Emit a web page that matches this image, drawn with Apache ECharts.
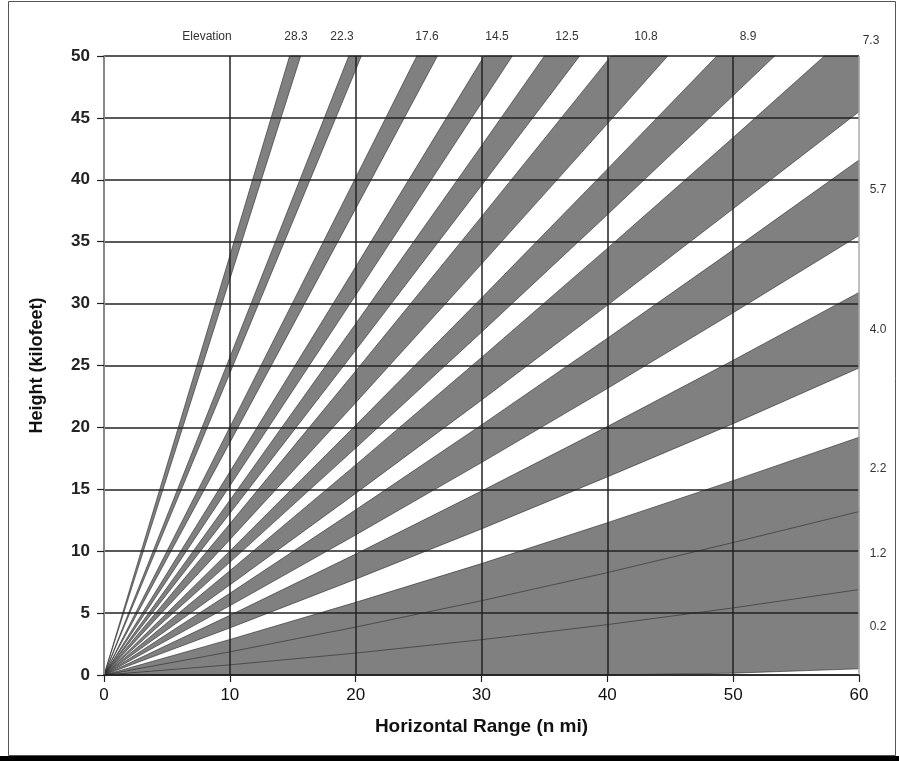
<!DOCTYPE html>
<html>
<head>
<meta charset="utf-8">
<script src="https://cdn.jsdelivr.net/npm/echarts@6/dist/echarts.min.js"></script>
<style>
html,body{margin:0;padding:0;background:#fff;}
#chart{width:899px;height:761px;}
</style>
</head>
<body>
<div id="chart"></div>
<script>
// ---- axis ranges / ticks ----
const xMin = 0, xMax = 60, xStep = 10;
const yMin = 0, yMax = 50, yStep = 5;
const xTitle = 'Horizontal Range (n mi)';
const yTitle = 'Height (kilofeet)';

// ---- beam edges: [range (n mi), height (kft)] ----
const edge0_2Low   = [[0,0],[40,0],[50,0.15],[60,0.5]];
const edge0_2High  = [[0,0],[10,1.0],[20,2.05],[30,3.2],[40,4.4],[50,5.75],[60,7.2]];
const edge1_2Low   = [[0,0],[10,0.82],[20,1.77],[30,2.85],[40,4.07],[50,5.42],[60,6.9]];
const edge1_2High  = [[0,0],[10,2.05],[20,4.15],[30,6.3],[40,8.6],[50,11.0],[60,13.5]];
const edge2_2Low   = [[0,0],[10,1.87],[20,3.87],[30,6.0],[40,8.27],[50,10.7],[60,13.2]];
const edge2_2High  = [[0,0],[10,2.87],[20,5.87],[30,9.0],[40,12.3],[50,15.7],[60,19.2]];
const edge4_0Low   = [[0,0],[10,3.8],[20,7.74],[30,11.8],[40,16.0],[50,20.3],[60,24.8]];
const edge4_0High  = [[0,0],[10,4.82],[20,9.77],[30,14.86],[40,20.07],[50,25.42],[60,30.9]];
const edge5_7Low   = [[0,0],[10,5.59],[20,11.31],[30,17.16],[40,23.14],[50,29.26],[60,35.5]];
const edge5_7High  = [[0,0],[10,6.6],[20,13.34],[30,20.2],[40,27.2],[50,34.34],[60,41.6]];
const edge7_3Low   = [[0,0],[10,7.27],[20,14.67],[30,22.2],[40,29.86],[50,37.66],[60,45.5]];
const edge7_3High  = [[0,0],[10,8.42],[20,16.97],[30,25.65],[40,34.46],[50,43.41],[57.25,50]];
const edge8_9Low   = [[0,0],[10,9.1],[20,18.33],[30,27.69],[40,37.18],[50,46.8],[53.3,50]];
const edge8_9High  = [[0,0],[10,10.02],[20,20.17],[30,30.45],[40,40.86],[48.7,50]];
const edge10_8Low  = [[0,0],[10,10.93],[20,21.99],[30,33.19],[40,44.52],[44.8,50]];
const edge10_8High = [[0,0],[10,12.21],[20,24.55],[30,37.02],[40,49.62],[40.3,50]];
const edge12_5Low  = [[0,0],[10,13.05],[20,26.23],[30,39.54],[37.8,50]];
const edge12_5High = [[0,0],[10,14.12],[20,28.37],[30,42.75],[35,50]];
const edge14_5Low  = [[0,0],[10,15.27],[20,30.67],[30,46.2],[32.45,50]];
const edge14_5High = [[0,0],[10,16.42],[20,32.97],[30,49.65],[30.2,50]];
const edge17_6Low  = [[0,0],[10,18.77],[20,37.67],[26.5,50]];
const edge17_6High = [[0,0],[10,20.02],[20,40.17],[24.86,50]];
const edge22_3Low  = [[0,0],[10,24.37],[20,48.87],[20.45,50]];
const edge22_3High = [[0,0],[10,25.67],[19.45,50]];
const edge28_3Low  = [[0,0],[10,31.97],[15.63,50]];
const edge28_3High = [[0,0],[10,33.87],[14.75,50]];

// ---- text labels ----
const topLabels   = ['Elevation','28.3','22.3','17.6','14.5','12.5','10.8','8.9','7.3'];
const rightLabels = ['5.7','4.0','2.2','1.2','0.2'];

// ---- build band table ----
const bands = [
  {low: edge0_2Low,  high: edge0_2High},
  {low: edge1_2Low,  high: edge1_2High},
  {low: edge2_2Low,  high: edge2_2High},
  {low: edge4_0Low,  high: edge4_0High},
  {low: edge5_7Low,  high: edge5_7High},
  {low: edge7_3Low,  high: edge7_3High},
  {low: edge8_9Low,  high: edge8_9High},
  {low: edge10_8Low, high: edge10_8High},
  {low: edge12_5Low, high: edge12_5High},
  {low: edge14_5Low, high: edge14_5High},
  {low: edge17_6Low, high: edge17_6High},
  {low: edge22_3Low, high: edge22_3High},
  {low: edge28_3Low, high: edge28_3High}
];

// layout positions for the annotation texts (pixels)
const topPos   = [[207,37],[296,37],[342,37],[427,37],[497,37],[567,37],[646,37],[748,37],[871,41]];
const rightPos = [[878,190],[878,330],[878,469],[878,554],[878,627]];

const chart = echarts.init(document.getElementById('chart'), null, {renderer:'canvas'});

const graphics = [
  {type:'rect', shape:{x:8.5,y:1.5,width:887,height:754}, style:{fill:'none', stroke:'#555', lineWidth:1}, z:0},
  {type:'rect', shape:{x:0,y:756,width:899,height:5}, style:{fill:'#000'}, z:0}
];
topLabels.forEach((t,i)=>{
  graphics.push({type:'text', x:topPos[i][0], y:topPos[i][1], style:{text:t, fill:'#333', font:'12px "Liberation Sans", Arial, sans-serif', textAlign:'center', textVerticalAlign:'middle'}, z:10});
});
rightLabels.forEach((t,i)=>{
  graphics.push({type:'text', x:rightPos[i][0], y:rightPos[i][1], style:{text:t, fill:'#333', font:'12px "Liberation Sans", Arial, sans-serif', textAlign:'center', textVerticalAlign:'middle'}, z:10});
});

const xLineColors = [];
for (let v = xMin; v <= xMax; v += xStep) xLineColors.push(v === xMax ? '#aaaaaa' : (v === xMin ? '#888888' : '#222222'));

chart.setOption({
  animation:false,
  backgroundColor:'#fff',
  grid:{left:104, right:40, top:56, bottom:86},
  xAxis:{
    type:'value', min:xMin, max:xMax, interval:xStep, z:5,
    name:xTitle, nameLocation:'middle', nameGap:42,
    nameTextStyle:{fontFamily:'"Liberation Sans Narrow","Liberation Sans",Arial', fontWeight:'bold', fontSize:19, color:'#111'},
    axisLine:{show:true, onZero:false, lineStyle:{color:'#222', width:1.5}},
    axisTick:{show:true, length:7, lineStyle:{color:'#222', width:1.2}},
    axisLabel:{margin:12, fontFamily:'"Liberation Sans Narrow","Liberation Sans",Arial', fontSize:17, color:'#111'},
    splitLine:{show:true, lineStyle:{color:xLineColors, width:1.5}}
  },
  yAxis:{
    type:'value', min:yMin, max:yMax, interval:yStep, z:5,
    name:yTitle, nameLocation:'middle', nameGap:58, nameRotate:90,
    nameTextStyle:{fontFamily:'"Liberation Sans",Arial', fontWeight:'bold', fontSize:18, color:'#111'},
    axisLine:{show:true, onZero:false, lineStyle:{color:'#888', width:2}},
    axisTick:{show:true, length:7, lineStyle:{color:'#222', width:1.2}},
    axisLabel:{margin:14, fontFamily:'"Liberation Sans",Arial', fontWeight:'bold', fontSize:17, color:'#222'},
    splitLine:{show:true, lineStyle:{color:'#222', width:1.5}}
  },
  graphic: graphics,
  series:[{
    type:'custom',
    coordinateSystem:'cartesian2d',
    z:2,
    data: bands.map((b,i)=>[i]),
    encode:{x:0},
    renderItem:function(params, api){
      const b = bands[params.dataIndex];
      const pts = b.low.slice();
      const lastLow = b.low[b.low.length-1];
      const lastHigh = b.high[b.high.length-1];
      if (lastLow[0] >= xMax && lastHigh[1] >= yMax && lastHigh[0] < xMax) pts.push([xMax, yMax]);
      for (let i = b.high.length-1; i >= 0; i--) pts.push(b.high[i]);
      return {
        type:'polygon',
        shape:{points: pts.map(p => api.coord(p))},
        style:{fill:'#808080', stroke:'rgba(40,40,40,0.75)', lineWidth:0.8}
      };
    }
  }]
});
</script>
</body>
</html>
